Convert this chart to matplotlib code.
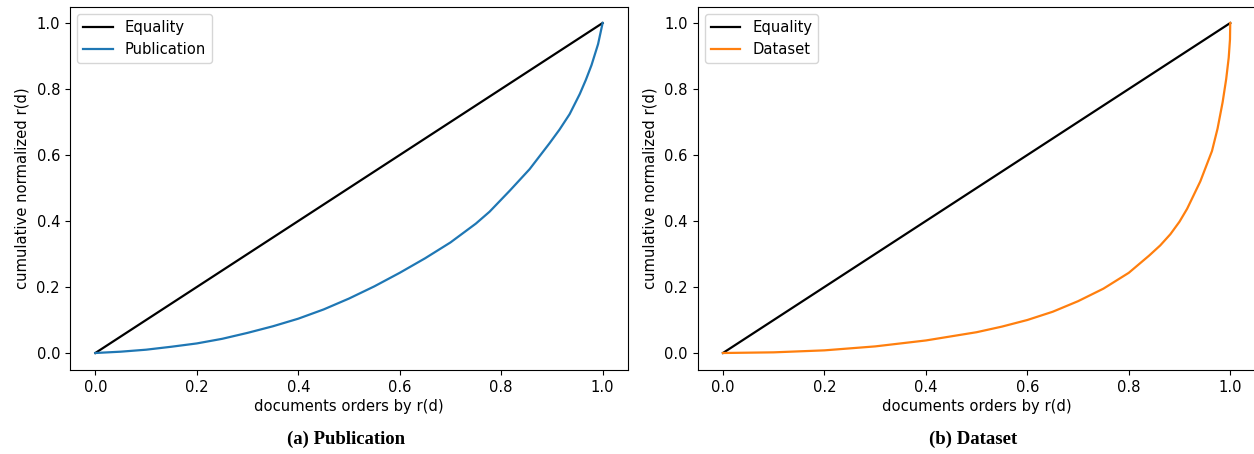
import matplotlib
matplotlib.use("Agg")
import matplotlib.pyplot as plt

# Equality line
eq_x = [0.0, 1.0]
eq_y = [0.0, 1.0]

# Publication Lorenz curve
pub_x = [0, 0.05, 0.1, 0.15, 0.2, 0.25, 0.3, 0.35, 0.4, 0.45, 0.5, 0.55, 0.6,
         0.65, 0.7, 0.75, 0.777, 0.817, 0.856, 0.895, 0.915, 0.935, 0.955,
         0.967, 0.978, 0.991, 0.999, 1.0]
pub_y = [0, 0.004, 0.01, 0.019, 0.029, 0.043, 0.061, 0.081, 0.104, 0.132, 0.165,
         0.202, 0.243, 0.287, 0.335, 0.392, 0.428, 0.492, 0.557, 0.635, 0.677,
         0.724, 0.785, 0.828, 0.872, 0.936, 0.993, 1.0]

# Dataset Lorenz curve
ds_x = [0, 0.1, 0.2, 0.3, 0.4, 0.5, 0.55, 0.6, 0.65, 0.7, 0.75, 0.8, 0.84,
        0.862, 0.882, 0.9, 0.915, 0.941, 0.964, 0.975, 0.985, 0.992, 0.997,
        0.9995, 1.0]
ds_y = [0, 0.002, 0.008, 0.02, 0.038, 0.063, 0.08, 0.10, 0.125, 0.157, 0.195,
        0.243, 0.295, 0.326, 0.36, 0.398, 0.437, 0.52, 0.612, 0.68, 0.76,
        0.83, 0.895, 0.95, 1.0]

panels = [
    ("Publication", pub_x, pub_y, "#1f77b4", "(a) Publication"),
    ("Dataset", ds_x, ds_y, "#ff7f0e", "(b) Dataset"),
]

W, H = 1254, 454
fig = plt.figure(figsize=(W / 100, H / 100), dpi=100)

lefts = [70, 697.6]
ax_w, ax_h = 558, 363
bottom = H - 369.5
fs = 10.6

for (name, xs, ys, col, cap), lx in zip(panels, lefts):
    ax = fig.add_axes([lx / W, bottom / H, ax_w / W, ax_h / H])
    ax.plot(eq_x, eq_y, color="black", label="Equality", lw=1.6)
    ax.plot(xs, ys, color=col, label=name, lw=1.6)
    ax.set_xlim(-0.05, 1.05)
    ax.set_ylim(-0.05, 1.05)
    ax.set_xticks([0, 0.2, 0.4, 0.6, 0.8, 1.0])
    ax.set_yticks([0, 0.2, 0.4, 0.6, 0.8, 1.0])
    ax.tick_params(labelsize=fs, length=3.7)
    ax.set_xlabel("documents orders by r(d)", fontsize=fs, labelpad=3)
    ax.set_ylabel("cumulative normalized r(d)", fontsize=fs, labelpad=5)
    ax.legend(loc="upper left", fontsize=fs)
    cx = (lx + ax_w / 2 - 3) / W
    fig.text(cx, 1 - 439 / H, cap, ha="center", va="center",
             fontsize=13.5, fontweight="bold", family="Liberation Serif")

fig.savefig("out.png", dpi=100)
